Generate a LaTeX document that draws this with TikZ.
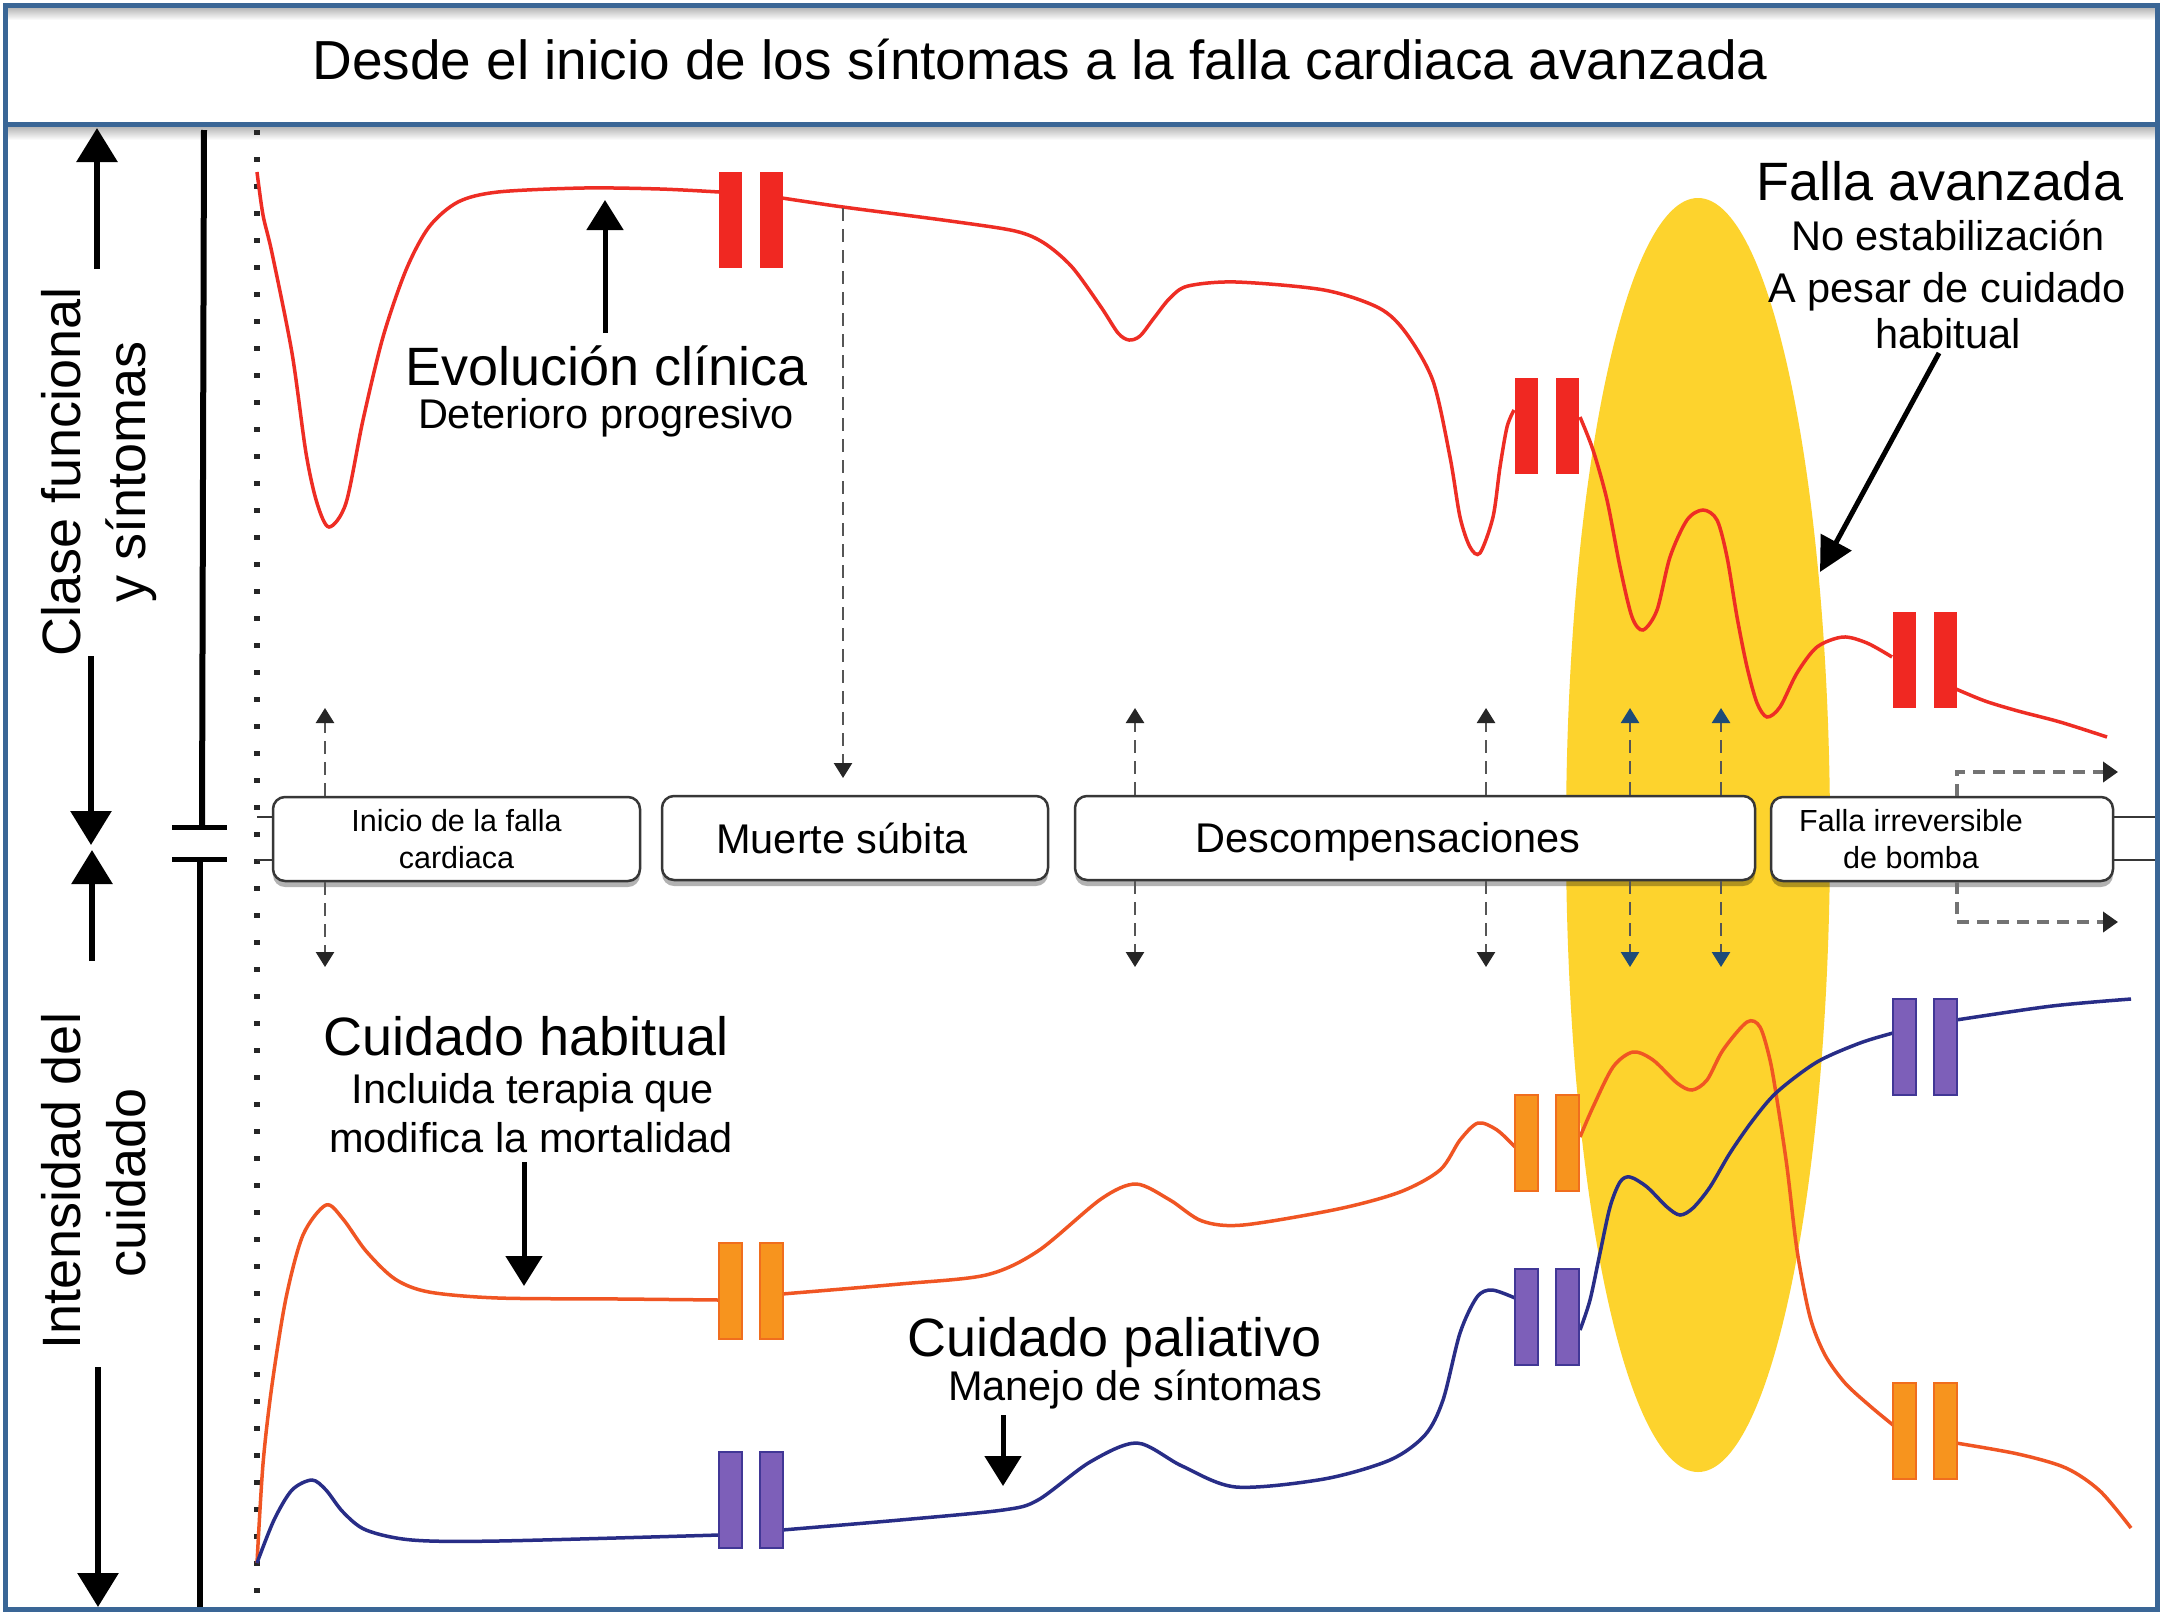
\documentclass[tikz,border=0pt]{standalone}
\usepackage{fontspec}
\setmainfont{Liberation Sans}
\usetikzlibrary{arrows.meta,shadows}
\definecolor{frameblue}{RGB}{58,102,150}
\definecolor{curvered}{RGB}{238,45,36}
\definecolor{barred}{RGB}{240,40,34}
\definecolor{curveorange}{RGB}{240,85,35}
\definecolor{barorange}{RGB}{247,148,30}
\definecolor{barorangeedge}{RGB}{240,110,30}
\definecolor{curvenavy}{RGB}{40,45,135}
\definecolor{barpurple}{RGB}{125,95,185}
\definecolor{barpurpleedge}{RGB}{65,55,150}
\definecolor{ellyellow}{RGB}{253,211,45}
\definecolor{boxedge}{RGB}{55,55,55}
\definecolor{dashgray}{RGB}{85,85,85}
\definecolor{tipblue}{RGB}{30,75,120}
\begin{document}
\begin{tikzpicture}[x=1pt,y=-1pt,
  titletxt/.style={font=\fontsize{55}{66}\selectfont, inner sep=0pt, anchor=base},
  bigtxt/.style={font=\fontsize{54}{64}\selectfont, inner sep=0pt, anchor=base},
  midtxt/.style={font=\fontsize{41.5}{50}\selectfont, inner sep=0pt, anchor=base},
  sidetxt/.style={font=\fontsize{54}{60}\selectfont, inner sep=0pt, rotate=90, anchor=base},
  evbox/.style={draw=boxedge, line width=2.5pt, fill=white, rounded corners=12pt,
     minimum height=84pt, align=center, inner sep=0pt,
     drop shadow={shadow xshift=0pt, shadow yshift=-6pt, opacity=0.3, fill=black}},
  smallboxtxt/.style={font=\fontsize{30.5}{37}\selectfont},
  midboxtxt/.style={font=\fontsize{41.5}{50}\selectfont},
  dasharr/.style={draw=dashgray, line width=2.5pt, dash pattern=on 13pt off 8pt,
     -{Triangle[width=18pt,length=15pt,color=black!85]}},
  bluearr/.style={draw=dashgray, line width=2.5pt, dash pattern=on 13pt off 8pt,
     -{Triangle[width=18pt,length=15pt,color=tipblue]}},
  elbowarr/.style={draw=black!55, line width=4pt, dash pattern=on 12pt off 8pt,
     -{Triangle[width=20pt,length=15pt,color=black!85]}},
  stubline/.style={draw=boxedge, line width=2.5pt},
  axarr/.style={draw=black, line width=6pt, -{Triangle[width=40pt,length=34pt]}},
  annarr/.style={draw=black, line width=5pt, -{Triangle[width=36pt,length=30pt]}},
  dotline/.style={draw=black!85, line width=6pt, dash pattern=on 5pt off 22pt},
  redcurve/.style={draw=curvered, line width=3.5pt},
  orangecurve/.style={draw=curveorange, line width=3.5pt},
  navycurve/.style={draw=curvenavy, line width=3.5pt},
  redbar/.style={fill=barred},
  orangebar/.style={fill=barorange, draw=barorangeedge, line width=1.5pt},
  purplebar/.style={fill=barpurple, draw=barpurpleedge, line width=1.5pt}
]
\useasboundingbox (0,0) rectangle (2167,1617);
\fill[white] (0,0) rectangle (2167,1617);
\shade[top color=black!30, bottom color=white] (5,7) rectangle (2157,20);
\shade[top color=black!30, bottom color=white] (5,126) rectangle (2157,140);

% yellow ellipse (advanced failure)
\fill[ellyellow] (1698,835) ellipse [x radius=132, y radius=637];

% title
\node[titletxt] (title) at (1040,79) {Desde el inicio de los síntomas a la falla cardiaca avanzada};

% left axis
\draw[dotline] (257,130) -- (257,1607);
\draw[line width=6pt] (204,130) -- (202,827);
\draw[line width=6pt] (200,859) -- (200,1607);
\draw[line width=5pt] (172,827) -- (227,827);
\draw[line width=5pt] (172,859) -- (227,859);

\node[sidetxt] (lab1) at (80,472) {Clase funcional};
\node[sidetxt] (lab2) at (145,472) {y síntomas};
\node[sidetxt] (lab3) at (80,1181) {Intensidad del};
\node[sidetxt] (lab4) at (145,1183) {cuidado};
\coordinate (a1s) at (97,269); \coordinate (a1e) at (97,128);
\coordinate (a2s) at (91,656); \coordinate (a2e) at (91,845);
\coordinate (a3s) at (92,961); \coordinate (a3e) at (92,850);
\coordinate (a4s) at (98,1367); \coordinate (a4e) at (98,1607);
\draw[axarr] (a1s) -- (a1e);
\draw[axarr] (a2s) -- (a2e);
\draw[axarr] (a3s) -- (a3e);
\draw[axarr] (a4s) -- (a4e);

% upper red curve
\draw[redcurve] plot[smooth, tension=0.5] coordinates {(257,172) (263,215) (272,253) (292,353) (306,453) (317,503) (329,527) (346,503) (363,420) (383,337) (406,270) (429,227) (458,202) (498,192) (584,188) (660,189) (719,192)};
\draw[redcurve] plot[smooth, tension=0.5] coordinates {(782,198) (843,207) (950,221) (1015,231) (1044,243) (1072,267) (1101,307) (1118,333) (1129,340) (1140,336) (1154,318) (1170,298) (1188,286) (1236,282) (1324,290) (1379,308) (1406,333) (1433,381) (1450,457) (1460,517) (1470,547) (1480,553) (1493,517) (1500,467) (1507,427) (1514,410)};
\draw[redcurve] plot[smooth, tension=0.5] coordinates {(1580,417) (1593,450) (1607,500) (1620,567) (1632,617) (1643,630) (1657,610) (1670,557) (1687,520) (1703,510) (1717,520) (1727,557) (1737,617) (1747,667) (1757,703) (1767,717) (1780,707) (1797,673) (1817,647) (1843,637) (1867,643) (1892,657)};
\draw[redcurve] plot[smooth, tension=0.5] coordinates {(1956,689) (1985,701) (2018,711) (2060,722) (2107,737)};

% lower orange curve
\draw[orangecurve] plot[smooth, tension=0.5] coordinates {(257,1563) (263,1464) (272,1385) (286,1298) (303,1235) (326,1205) (343,1219) (366,1251) (395,1279) (429,1292) (498,1298) (620,1299) (719,1300)};
\draw[orangecurve] plot[smooth, tension=0.5] coordinates {(782,1294) (900,1284) (986,1275) (1038,1251) (1101,1199) (1136,1184) (1170,1200) (1202,1221) (1243,1225) (1338,1209) (1400,1192) (1440,1170) (1460,1140) (1478,1123) (1497,1130) (1515,1147)};
\draw[orangecurve] plot[smooth, tension=0.5] coordinates {(1580,1137) (1593,1107) (1613,1067) (1633,1052) (1653,1060) (1677,1083) (1692,1090) (1707,1080) (1723,1050) (1747,1022) (1760,1027) (1770,1060) (1777,1100) (1787,1167) (1797,1250) (1810,1317) (1825,1355) (1845,1383) (1870,1406) (1893,1425)};
\draw[orangecurve] plot[smooth, tension=0.5] coordinates {(1956,1443) (2018,1454) (2066,1468) (2100,1491) (2131,1528)};

% lower navy curve
\draw[navycurve] plot[smooth, tension=0.5] coordinates {(257,1563) (274,1520) (292,1490) (312,1480) (326,1490) (343,1512) (366,1530) (412,1540) (498,1541) (719,1535)};
\draw[navycurve] plot[smooth, tension=0.5] coordinates {(782,1530) (900,1520) (1003,1510) (1038,1500) (1090,1462) (1137,1443) (1182,1466) (1236,1487) (1324,1479) (1390,1460) (1425,1435) (1443,1400) (1460,1333) (1477,1297) (1492,1290) (1515,1298)};
\draw[navycurve] plot[smooth, tension=0.5] coordinates {(1580,1330) (1590,1300) (1600,1253) (1610,1207) (1620,1182) (1630,1177) (1647,1187) (1667,1207) (1680,1215) (1693,1208) (1710,1187) (1730,1153) (1753,1120) (1777,1092) (1817,1062) (1860,1043) (1893,1033)};
\draw[navycurve] plot[smooth, tension=0.5] coordinates {(1956,1020) (2052,1006) (2131,999)};

% break bars
\foreach \xa/\ya in {719/172, 1515/378, 1893/612} {
  \fill[redbar] (\xa,\ya) rectangle ++(23,96);
  \fill[redbar] (\xa+41,\ya) rectangle ++(23,96);
}
\foreach \xa/\ya in {719/1243, 1515/1095, 1893/1383} {
  \filldraw[orangebar] (\xa,\ya) rectangle ++(23,96);
  \filldraw[orangebar] (\xa+41,\ya) rectangle ++(23,96);
}
\foreach \xa/\ya in {719/1452, 1515/1269, 1893/999} {
  \filldraw[purplebar] (\xa,\ya) rectangle ++(23,96);
  \filldraw[purplebar] (\xa+41,\ya) rectangle ++(23,96);
}

% event boxes
\node[evbox, smallboxtxt, minimum width=367pt] (b1) at (456.5,839) {Inicio de la falla\\cardiaca};
\node[evbox, midboxtxt, minimum width=386pt] (b2) at (855,838) {Muerte súbita\kern26pt};
\node[evbox, midboxtxt, minimum width=680pt, text height=36pt, text depth=8pt] (b3) at (1415,838) {Descompensaciones\kern54pt};
\node[evbox, smallboxtxt, minimum width=342pt] (b4) at (1942,839) {Falla irreversible\kern62pt\\de bomba\kern62pt};

% stubs
\coordinate (s1) at (257,817); \coordinate (s2) at (257,860);
\coordinate (s3) at (2155,817); \coordinate (s4) at (2155,860);
\draw[stubline] (s1) -- (s1 -| b1.west);
\draw[stubline] (s2) -- (s2 -| b1.west);
\draw[stubline] (s3 -| b4.east) -- (s3);
\draw[stubline] (s4 -| b4.east) -- (s4);

% dashed event arrows
\coordinate (u1) at (325,708);  \coordinate (d1) at (325,967);
\coordinate (u2) at (1135,708); \coordinate (d2) at (1135,967);
\coordinate (u3) at (1486,708); \coordinate (d3) at (1486,967);
\coordinate (u4) at (1630,708); \coordinate (d4) at (1630,967);
\coordinate (u5) at (1721,708); \coordinate (d5) at (1721,967);
\draw[dasharr] (b1.north -| u1) -- (u1);
\draw[dasharr] (b1.south -| d1) -- (d1);
\draw[dasharr] (b3.north -| u2) -- (u2);
\draw[dasharr] (b3.south -| d2) -- (d2);
\draw[dasharr] (b3.north -| u3) -- (u3);
\draw[dasharr] (b3.south -| d3) -- (d3);
\draw[bluearr] (b3.north -| u4) -- (u4);
\draw[bluearr] (b3.south -| d4) -- (d4);
\draw[bluearr] (b3.north -| u5) -- (u5);
\draw[bluearr] (b3.south -| d5) -- (d5);
\coordinate (ms0) at (843,208); \coordinate (ms1) at (843,778);
\draw[dasharr] (ms0) -- (ms1);
\coordinate (fx) at (1957,0);
\coordinate (fu) at (2118,772); \coordinate (fl) at (2118,922);
\draw[elbowarr] (b4.north -| fx) |- (fu);
\draw[elbowarr] (b4.south -| fx) |- (fl);

% texts
\node[bigtxt] (ev1) at (607,385) {Evolución clínica};
\node[midtxt] (ev2) at (606,428) {Deterioro progresivo};
\node[bigtxt] (fa1) at (1940,200) {Falla avanzada};
\node[midtxt] (fa2) at (1948,250) {No estabilización};
\node[midtxt] (fa3) at (1947,302) {A pesar de cuidado};
\node[midtxt] (fa4) at (1948,348) {habitual};
\node[bigtxt] (ch1) at (526,1055) {Cuidado habitual};
\node[midtxt] (ch2) at (533,1103) {Incluida terapia que};
\node[midtxt] (ch3) at (531,1152) {modifica la mortalidad};
\node[bigtxt] (cp1) at (1115,1356) {Cuidado paliativo};
\node[midtxt] (cp2) at (1135,1400) {Manejo de síntomas};

% annotation arrows
\coordinate (evs) at (605,333); \coordinate (evt) at (605,200);
\draw[annarr] (evs) -- (evt);
\coordinate (fas) at (1939,353); \coordinate (fat) at (1820,572);
\draw[annarr, -{Triangle[width=34pt,length=34pt]}] (fas) -- (fat);
\coordinate (chs) at (524,1162); \coordinate (cht) at (524,1286);
\draw[annarr] (chs) -- (cht);
\coordinate (cps) at (1003,1415); \coordinate (cpt) at (1003,1486);
\draw[annarr] (cps) -- (cpt);

% frame
\draw[frameblue, line width=5pt] (5,5) rectangle (2157,1609);
\draw[frameblue, line width=5pt] (5,124) -- (2157,124);
\end{tikzpicture}
\end{document}
